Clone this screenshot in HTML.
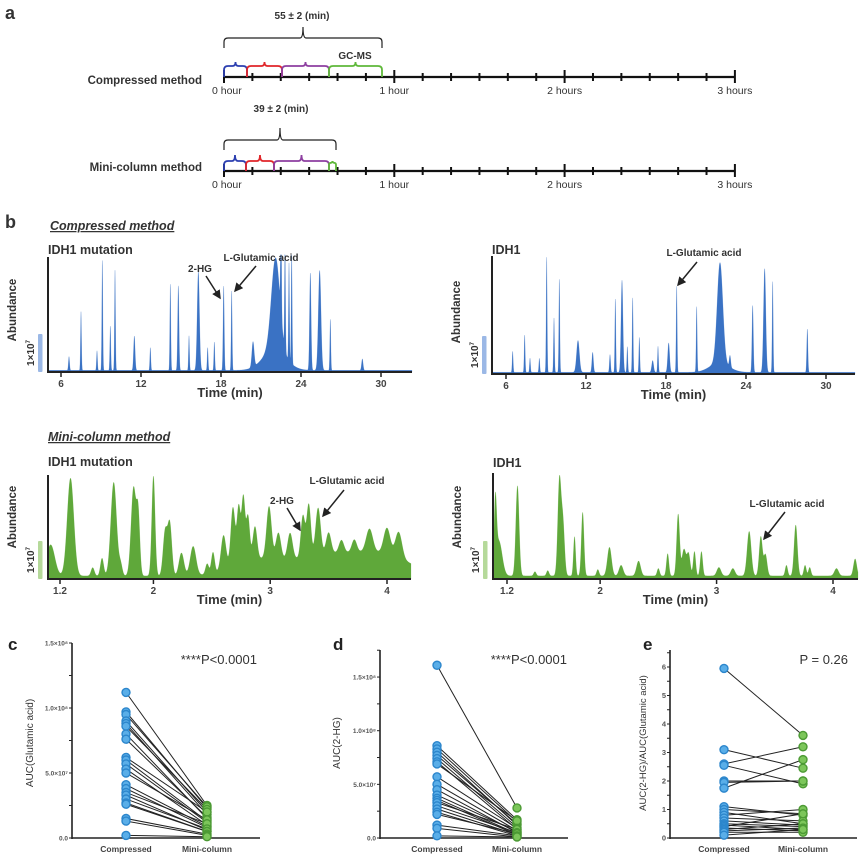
<!DOCTYPE html>
<html><head><meta charset="utf-8">
<style>
html,body{margin:0;padding:0;background:#fff;}
svg{display:block;font-family:"Liberation Sans",Arial,sans-serif;}
.b{font-weight:bold;fill:#333;}
</style></head>
<body>
<svg id="fig" width="865" height="859" viewBox="0 0 865 859">
<g>
<text x="5" y="19" font-size="18" class="b">a</text>
<text x="302" y="19" font-size="10" class="b" text-anchor="middle">55 ± 2 (min)</text>
<text x="355" y="59" font-size="10" class="b" text-anchor="middle">GC-MS</text>
<text x="202" y="84" font-size="11.5" class="b" text-anchor="end">Compressed method</text>
<text x="281" y="112" font-size="10" class="b" text-anchor="middle">39 ± 2 (min)</text>
<text x="202" y="171" font-size="11.5" class="b" text-anchor="end">Mini-column method</text>
<g id="timelines"></g>
</g>
<g>
<text x="5" y="228" font-size="18" class="b">b</text>
<text x="50" y="230" font-size="12.5" class="b" font-style="italic" text-decoration="underline">Compressed method</text>
<text x="48" y="441" font-size="12.5" class="b" font-style="italic" text-decoration="underline">Mini-column method</text>
<g id="chroms"></g>
</g>
<g id="scatters"></g>
</svg>
<script>
// ---------- Chromatogram data (time in min, relative height, width in min) ----------
const cTL_T=[6.6,7.5,8.7,9.1,9.7,10.05,11.5,12.7,14.2,14.8,15.6,16.3,17.0,17.5,18.2,18.8,20.4,22.1,22.0,22.5,22.8,23.1,23.3,24.7,25.4,26.2,28.6];
const cTL_H=[0.12,0.51,0.17,0.97,0.39,0.87,0.30,0.2,0.76,0.74,0.3,0.86,0.2,0.25,0.74,0.70,0.22,0.80,0.18,1.0,0.95,0.85,1.0,0.85,0.87,0.45,0.1];
const cTL_W=[0.06,0.05,0.05,0.05,0.05,0.05,0.08,0.05,0.05,0.07,0.05,0.12,0.05,0.05,0.06,0.05,0.12,0.45,1.2,0.05,0.05,0.05,0.05,0.08,0.14,0.05,0.08];

const cTR_T=[6.5,7.4,7.8,8.5,9.05,9.6,10.0,11.4,12.5,13.8,14.2,14.7,15.1,15.5,16.0,17.0,17.4,18.2,18.8,20.3,22.05,22.0,22.8,24.5,25.4,26.0,28.6];
const cTR_H=[0.18,0.32,0.12,0.12,0.99,0.46,0.80,0.27,0.17,0.15,0.63,0.78,0.22,0.64,0.3,0.1,0.22,0.25,0.74,0.56,0.85,0.08,0.1,0.57,0.88,0.78,0.37];
const cTR_W=[0.05,0.05,0.05,0.05,0.05,0.05,0.05,0.15,0.08,0.06,0.05,0.1,0.05,0.05,0.05,0.1,0.05,0.1,0.05,0.05,0.3,1.0,0.08,0.07,0.12,0.05,0.06];

const cBL_T=[1.12,1.29,1.48,1.56,1.66,1.72,1.83,1.87,2.0,2.1,2.14,2.24,2.34,2.46,2.51,2.6,2.68,2.73,2.77,2.81,2.87,2.99,3.07,3.17,3.28,3.33,3.41,3.5,3.61,3.72,3.85,4.0,4.1,2.9,3.45,3.95,2.75];
const cBL_H=[0.3,0.94,0.08,0.17,0.9,0.1,0.85,0.55,0.96,0.42,0.5,0.22,0.28,0.1,0.2,0.33,0.5,0.42,0.5,0.35,0.3,0.5,0.25,0.25,0.4,0.5,0.45,0.2,0.12,0.12,0.22,0.25,0.25,0.15,0.18,0.2,0.15];
const cBL_W=[0.05,0.04,0.02,0.02,0.035,0.02,0.03,0.02,0.02,0.025,0.025,0.03,0.035,0.02,0.02,0.03,0.025,0.02,0.02,0.02,0.025,0.03,0.03,0.03,0.025,0.025,0.03,0.03,0.03,0.03,0.04,0.04,0.04,0.3,0.35,0.35,0.08];

const cBR_T=[1.1,1.13,1.29,1.44,1.55,1.65,1.68,1.78,1.85,1.98,2.08,2.18,2.33,2.5,2.58,2.67,2.72,2.76,2.81,2.87,3.02,3.14,3.28,3.38,3.42,3.6,3.68,3.76,3.8,4.03,4.19];
const cBR_H=[0.6,0.33,0.85,0.04,0.05,0.89,0.5,0.37,0.6,0.06,0.27,0.1,0.14,0.07,0.21,0.58,0.25,0.2,0.23,0.23,0.08,0.07,0.42,0.37,0.2,0.1,0.48,0.1,0.08,0.07,0.16];
const cBR_W=[0.015,0.04,0.02,0.015,0.015,0.02,0.02,0.013,0.016,0.015,0.025,0.025,0.025,0.015,0.015,0.018,0.025,0.02,0.015,0.015,0.025,0.025,0.025,0.02,0.02,0.015,0.02,0.015,0.015,0.025,0.02];

const tickTop=[6,12,18,24,30];
const tickBot=[1.2,2,3,4];

// ---------- Paired AUC data ----------
const cComp=[11.2,9.7,9.5,9.0,8.8,8.6,8.0,7.6,6.2,6.0,5.7,5.3,5.0,4.1,3.8,3.5,3.3,3.0,2.7,2.6,1.5,1.3,0.2];
const cMini=[2.5,2.3,2.4,2.0,1.8,2.2,1.5,1.6,2.0,1.3,1.2,1.0,1.4,0.9,0.8,1.1,0.6,0.7,0.5,0.5,0.3,0.2,0.1];
const dComp=[16.1,8.6,8.3,8.0,7.7,7.4,7.1,6.9,5.7,5.0,4.5,4.0,3.7,3.5,3.3,3.0,2.7,2.4,2.2,1.2,0.9,0.2];
const dMini=[2.8,1.7,1.5,1.2,1.3,1.0,0.8,1.6,0.9,0.7,0.5,0.6,0.4,0.3,0.8,0.5,0.3,0.2,0.4,0.2,0.1,0.1];
const eComp=[5.95,3.1,2.6,2.55,2.0,1.95,1.75,1.1,1.0,0.9,0.8,0.7,0.6,0.5,0.45,0.4,0.35,0.3,0.25,0.2,0.1];
const eMini=[3.6,2.45,3.2,1.9,2.0,2.0,2.75,0.8,0.85,0.5,1.0,0.6,0.45,0.4,0.3,0.85,0.25,0.5,0.35,0.2,0.3];
const abTicks=[0,5,10,15];
const abTickLabels=["0.0","5.0×10⁷","1.0×10⁸","1.5×10⁸"];
const eTicks=[0,1,2,3,4,5,6];
const eTickLabels=["0","1","2","3","4","5","6"];

const NS="http://www.w3.org/2000/svg";
function mk(tag,attrs,parent,txt){const e=document.createElementNS(NS,tag);for(const k in attrs)e.setAttribute(k,attrs[k]);if(txt!==undefined)e.textContent=txt;parent.appendChild(e);return e;}

const TL=document.getElementById('timelines');
function brace(x1,x2,yb,yt,tip,col,w,name){
  const r=Math.min(4,(x2-x1)/4),m=(x1+x2)/2;
  const d=`M${x1},${yb} L${x1},${yt+r} Q${x1},${yt} ${x1+r},${yt} L${m-3},${yt} Q${m},${yt} ${m},${tip} Q${m},${yt} ${m+3},${yt} L${x2-r},${yt} Q${x2},${yt} ${x2},${yt+r} L${x2},${yb}`;
  const p=mk('path',{d:d,fill:'none',stroke:col,'stroke-width':w},TL);
  
  
}
function timeline(y,name){
  const x0=224,ph=170.3;
  const l=mk('line',{x1:x0,y1:y,x2:735,y2:y,stroke:'#111','stroke-width':2.2},TL);
  
  
  for(let k=0;k<=18;k++){
    const x=x0+k*ph/6;const maj=k%6===0;
    const t=mk('line',{x1:x,y1:maj?y-7:y-4,x2:x,y2:maj?y+6:y+4,stroke:'#111','stroke-width':2},TL);
    
    
  }
  const labs=['0 hour','1 hour','2 hours','3 hours'];
  labs.forEach((s,i)=>{
    const tx=mk('text',{x:x0+i*ph-(i==0?12:0),y:y+17,'font-size':10.5,fill:'#333','text-anchor':i==0?'start':'middle'},TL,s);
    
    
  });
}
timeline(77,'compressed-timeline');
timeline(171,'mini-timeline');
brace(224,382,48,38,27,'#222',1.2,'compressed-total-brace');
brace(224,247,77,66,62,'#2c3fb0',1.8,'step1-brace');
brace(247,282,77,66,62,'#e0262a',1.8,'step2-brace');
brace(282,329,77,66,62,'#8d3fa0',1.8,'step3-brace');
brace(329,382,77,66,62,'#5fb83a',1.8,'gcms-brace');
brace(224,336,150,140,128,'#222',1.2,'mini-total-brace');
brace(224,246,171,161,155,'#2c3fb0',1.8,'mini-step1-brace');
brace(246,274,171,161,155,'#e0262a',1.8,'mini-step2-brace');
brace(274,329,171,161,155,'#8d3fa0',1.8,'mini-step3-brace');
brace(329,336,171,163,161,'#5fb83a',1.8,'mini-gcms-brace');

const CH=document.getElementById('chroms');
function chrom(c){
  const g=mk('g',{},CH);
  
  
  const tx=t=>c.pA+(t-c.tA)*(c.pB-c.pA)/(c.tB-c.tA);
  const pt=x=>c.tA+(x-c.pA)*(c.tB-c.tA)/(c.pB-c.pA);
  const H=c.base-c.top;
  let d=`M${c.ax+1},${c.base}`;
  for(let x=c.ax+1;x<=c.xEnd;x+=0.25){
    const t=pt(x);let s=c.floor;
    for(let i=0;i<c.T.length;i++){const z=(t-c.T[i])/c.W[i];if(Math.abs(z)<5)s+=c.H[i]*Math.exp(-z*z);}
    s=Math.min(s,1.02);
    d+=` L${x.toFixed(2)},${(c.base-s*H).toFixed(2)}`;
  }
  d+=` L${c.xEnd},${c.base} Z`;
  const p=mk('path',{d:d,fill:c.col,stroke:c.col,'stroke-width':0.3,'stroke-opacity':0.6},g);
  
  
  const ya=mk('line',{x1:c.ax,y1:c.top,x2:c.ax,y2:c.base+1,stroke:'#222','stroke-width':2},g);
  
  
  const xa=mk('line',{x1:c.ax-1,y1:c.base,x2:c.xEnd,y2:c.base,stroke:'#222','stroke-width':2},g);
  
  
  c.ticks.forEach(t=>{
    const x=tx(t);
    const tk=mk('line',{x1:x,y1:c.base,x2:x,y2:c.base+5,stroke:'#222','stroke-width':1.5},g);
    
    
    const tl=mk('text',{x:x,y:c.base+15,'font-size':10,'font-weight':'bold',fill:'#444','text-anchor':'middle'},g,String(t));
    
    
  });
  const xt=mk('text',{x:(c.ax+c.xEnd)/2,y:c.base+25,'font-size':13,'font-weight':'bold',fill:'#333','text-anchor':'middle'},g,'Time (min)');
  
  
  const yt=mk('text',{x:0,y:0,'font-size':11.5,'font-weight':'bold',fill:'#333','text-anchor':'middle',transform:`translate(${c.ax-32},${c.base-62}) rotate(-90)`},g,'Abundance');
  
  
  const sb=mk('rect',{x:c.ax-10,y:c.base-38,width:4.5,height:38,fill:c.bar,rx:1},g);
  
  
  const st=mk('text',{x:0,y:0,'font-size':10,'font-weight':'bold',fill:'#333','text-anchor':'middle',transform:`translate(${c.ax-14},${c.base-19}) rotate(-90)`},g);
  
  
  st.innerHTML='1×10<tspan font-size="6" dy="-4">7</tspan>';
  const ti=mk('text',{x:c.ax,y:c.titleY,'font-size':12.5,'font-weight':'bold',fill:'#333'},g,c.title);
  
  
  c.ann.forEach(a=>{
    const at=mk('text',{x:a.x,y:a.y,'font-size':10,'font-weight':'bold',fill:'#333','text-anchor':'middle'},g,a.s);
    
    
    const ar=mk('line',{x1:a.x1,y1:a.y1,x2:a.x2,y2:a.y2,stroke:'#222','stroke-width':1.5,'marker-end':'url(#arr)'},g);
    
    
  });
}
const svg=document.getElementById('fig');
const defs=mk('defs',{},svg);
const mkr=mk('marker',{id:'arr',markerWidth:6,markerHeight:6,refX:5,refY:3,orient:'auto',markerUnits:'strokeWidth'},defs);
mk('path',{d:'M0,0 L6,3 L0,6 Z',fill:'#222'},mkr);

const BLUE='#3a72c4',GREEN='#5fa83a';
chrom({name:'chromatogram-compressed-idh1-mutation',ax:48,top:257,base:372,xEnd:412,tA:6,pA:61,tB:30,pB:381,T:cTL_T,H:cTL_H,W:cTL_W,col:BLUE,bar:'#9bb8e6',floor:0.015,ticks:tickTop,title:'IDH1 mutation',titleY:254,
  ann:[{s:'2-HG',x:200,y:272,x1:206,y1:276,x2:220,y2:298},{s:'L-Glutamic acid',x:261,y:261,x1:256,y1:266,x2:235,y2:291}]});
chrom({name:'chromatogram-compressed-idh1',ax:492,top:256,base:374,xEnd:855,tA:6,pA:506,tB:30,pB:826,T:cTR_T,H:cTR_H,W:cTR_W,col:BLUE,bar:'#9bb8e6',floor:0.015,ticks:tickTop,title:'IDH1',titleY:254,
  ann:[{s:'L-Glutamic acid',x:704,y:256,x1:697,y1:262,x2:678,y2:285}]});
chrom({name:'chromatogram-mini-idh1-mutation',ax:48,top:475,base:579,xEnd:411,tA:1.2,pA:60,tB:4,pB:387,T:cBL_T,H:cBL_H,W:cBL_W,col:GREEN,bar:'#b5d99a',floor:0.03,ticks:tickBot,title:'IDH1 mutation',titleY:466,
  ann:[{s:'2-HG',x:282,y:504,x1:287,y1:508,x2:300,y2:530},{s:'L-Glutamic acid',x:347,y:484,x1:344,y1:490,x2:323,y2:516}]});
chrom({name:'chromatogram-mini-idh1',ax:493,top:473,base:579,xEnd:858,tA:1.2,pA:507,tB:4,pB:833,T:cBR_T,H:cBR_H,W:cBR_W,col:GREEN,bar:'#b5d99a',floor:0.03,ticks:tickBot,title:'IDH1',titleY:467,
  ann:[{s:'L-Glutamic acid',x:787,y:507,x1:785,y1:512,x2:764,y2:539}]});

const SC=document.getElementById('scatters');
function paired(c){
  const g=mk('g',{},SC);
  
  
  const y=v=>c.y0-v*c.ppu;
  const L=mk('text',{x:c.letterX,y:650,'font-size':17,'font-weight':'bold',fill:'#222'},g,c.letter);
  
  
  const ya=mk('line',{x1:c.ax,y1:c.top,x2:c.ax,y2:c.y0+1,stroke:'#222','stroke-width':1.6},g);
  
  
  const xa=mk('line',{x1:c.ax,y1:c.y0,x2:c.xEnd,y2:c.y0,stroke:'#222','stroke-width':1.6},g);
  
  
  for(let v=0;c.y0-v*c.ppu>=c.top-0.5;v+=c.minor){
    const mt=mk('line',{x1:c.ax-3,y1:y(v),x2:c.ax,y2:y(v),stroke:'#222','stroke-width':1},g);
    
    
  }
  c.ticks.forEach((v,i)=>{
    const tl=mk('text',{x:c.ax-4,y:y(v)+2.5,'font-size':c.tfs,'font-weight':'bold',fill:'#555','text-anchor':'end'},g,c.tlabels[i]);
    
    
  });
  const yt=mk('text',{x:0,y:0,'font-size':c.yfs,fill:'#333','text-anchor':'middle',transform:`translate(${c.ytX},743) rotate(-90)`},g,c.ytitle);
  
  
  [['Compressed',c.cx],['Mini-column',c.mx]].forEach(a=>{
    const t=mk('text',{x:a[1],y:852,'font-size':8.5,'font-weight':'bold',fill:'#444','text-anchor':'middle'},g,a[0]);
    
    
  });
  const pv=mk('text',{x:c.px,y:664,'font-size':13,fill:'#333','text-anchor':'end'},g,c.ptext);
  
  
  c.comp.forEach((v,i)=>{
    const ln=mk('line',{x1:c.cx,y1:y(v),x2:c.mx,y2:y(c.mini[i]),stroke:'#222','stroke-width':1},g);
    
    
  });
  c.comp.forEach(v=>{
    const d=mk('circle',{cx:c.cx,cy:y(v),r:4,fill:'#5aaee8',stroke:'#2c86cc','stroke-width':1.4},g);
    
    
  });
  c.mini.forEach(v=>{
    const d=mk('circle',{cx:c.mx,cy:y(v),r:4,fill:'#7cc65a',stroke:'#4c9a34','stroke-width':1.4},g);
    
    
  });
}
paired({name:'panel-c-glutamic-auc',letter:'c',letterX:8,ax:72,top:643,y0:838,ppu:13,xEnd:260,cx:126,mx:207,comp:cComp,mini:cMini,ticks:abTicks,tlabels:abTickLabels,minor:2.5,tfs:6.5,ytitle:'AUC(Glutamic acid)',ytX:33,yfs:10,px:257,ptext:'****P<0.0001'});
paired({name:'panel-d-2hg-auc',letter:'d',letterX:333,ax:380,top:650,y0:838,ppu:10.73,xEnd:568,cx:437,mx:517,comp:dComp,mini:dMini,ticks:abTicks,tlabels:abTickLabels,minor:2.5,tfs:6.5,ytitle:'AUC(2-HG)',ytX:340,yfs:10,px:567,ptext:'****P<0.0001'});
paired({name:'panel-e-ratio',letter:'e',letterX:643,ax:670,top:650,y0:838,ppu:28.5,xEnd:857,cx:724,mx:803,comp:eComp,mini:eMini,ticks:eTicks,tlabels:eTickLabels,minor:0.5,tfs:7.5,ytitle:'AUC(2-HG)/AUC(Glutamic acid)',ytX:646,yfs:9.5,px:848,ptext:'P = 0.26'});
</script>
</body></html>
